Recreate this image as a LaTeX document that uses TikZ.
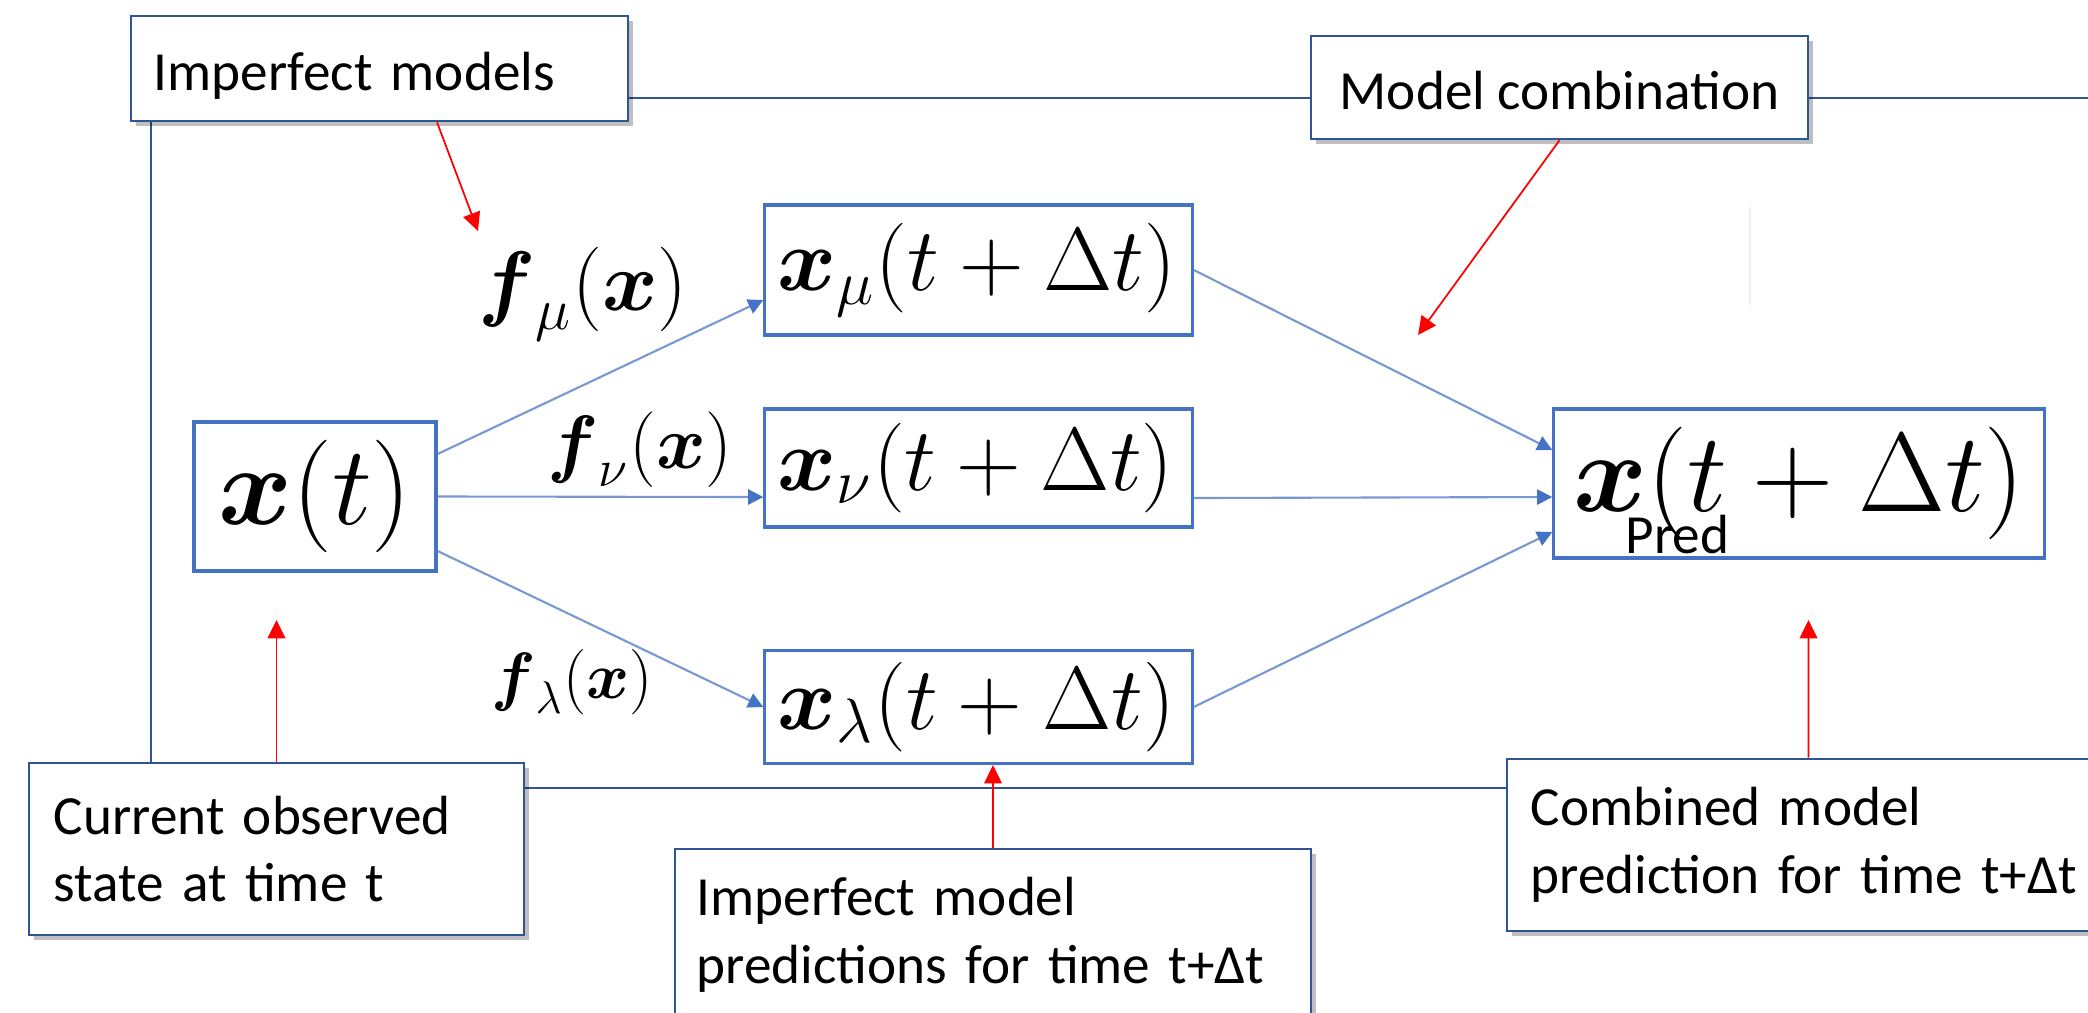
\RequirePackage{fix-cm}
\documentclass[tikz,border=0pt]{standalone}
\usepackage{amsmath}
\usepackage{fontspec}
\newfontfamily\calib{Carlito}
\usetikzlibrary{arrows.meta,shadows}
\definecolor{frameblue}{RGB}{47,85,151}
\definecolor{boxblue}{RGB}{68,114,196}
\definecolor{arrblue}{RGB}{120,152,212}
\begin{document}
\begin{tikzpicture}[x=0.01cm,y=-0.01cm,
  frameline/.style={draw=frameblue, line width=0.7pt},
  callout/.style={draw=frameblue, line width=0.7pt, fill=white,
    drop shadow={shadow xshift=0.05cm, shadow yshift=-0.05cm, opacity=0.25, fill=black},
    font=\calib\fontsize{15.7}{19.2}\selectfont, align=left},
  oneline/.style={text height=13.5pt, text depth=1pt},
  mbox/.style={draw=boxblue, line width=0.9pt, fill=white},
  flow/.style={draw=arrblue, line width=0.6pt, -{Triangle[length=4.3pt,width=4.3pt,color=boxblue]}},
  point/.style={draw=red, line width=0.5pt, -{Triangle[length=5.2pt,width=5pt]}},
]
\useasboundingbox (0,0) rectangle (2088,1012);
\fill[white] (0,0) rectangle (2088,1012);
\clip (0,0) rectangle (2088,1012);

% frame
\draw[frameline] (151,98) rectangle (2200,788);
\draw[gray!15, line width=0.4pt] (1750,207) -- (1750,305);

% callout boxes
\node[callout, oneline, inner xsep=0.23cm, text width=4.51cm, minimum height=1.05cm] (im) at (379.5,68.5) {Imperfect models};
\node[callout, oneline, align=center, minimum width=4.97cm, minimum height=1.03cm] (mc) at (1559.5,87.5) {Model combination};
\node[callout, inner xsep=0.25cm, text width=4.45cm, minimum height=1.72cm] (co) at (276.5,849) {Current observed\\state at time t};
\node[callout, inner xsep=0.22cm, text width=5.92cm, minimum height=1.72cm] (imp) at (993,935) {Imperfect model\\predictions for time t+Δt};
\node[callout, inner xsep=0.24cm, text width=6.2cm, minimum height=1.72cm] (cb) at (1841,845) {Combined model\\prediction for time t+Δt};

% math boxes
\node[mbox, minimum width=2.42cm, minimum height=1.49cm, font=\fontsize{32}{38}\selectfont] (xt) at (315,496.5) {$\boldsymbol{x}(t)$};
\node[mbox, inner xsep=0.13cm, text width=4.01cm, align=left, minimum height=1.30cm, font=\fontsize{25.5}{30}\selectfont] (xmu) at (978.5,270) {$\boldsymbol{x}_\mu(t+\Delta t)$};
\node[mbox, inner xsep=0.13cm, text width=4.01cm, align=left, minimum height=1.18cm, font=\fontsize{25.5}{30}\selectfont] (xnu) at (978.5,468) {$\boldsymbol{x}_\nu(t+\Delta t)$};
\node[mbox, inner xsep=0.13cm, text width=4.01cm, align=left, minimum height=1.08cm, font=\fontsize{25.5}{30}\selectfont] (xlam) at (978.5,707) {$\boldsymbol{x}_\lambda(t+\Delta t)$};
\node[mbox, minimum width=4.90cm, minimum height=1.49cm, font=\fontsize{32}{38}\selectfont] (pred) at (1799,483.5) {$\boldsymbol{x}(t+\Delta t)$};
\node[font=\calib\fontsize{15.7}{19}\selectfont, anchor=base west, inner sep=0pt] (predlbl) at (1625,553) {Pred};

% function labels
\node[font=\fontsize{24}{29}\selectfont] (fmu) at (583,294) {$\boldsymbol{f}_\mu(\boldsymbol{x})$};
\node[font=\fontsize{21.5}{26}\selectfont] (fnu) at (640,450) {$\boldsymbol{f}_\nu(\boldsymbol{x})$};
\node[font=\fontsize{18.6}{22}\selectfont] (flam) at (572,682) {$\boldsymbol{f}_\lambda(\boldsymbol{x})$};

% blue flows
\draw[flow] ([yshift=0.425cm]xt.east) -- ([yshift=-0.3cm]xmu.west);
\draw[flow] (xt.east) -- ([yshift=-0.29cm]xnu.west);
\draw[flow] ([yshift=-0.545cm]xt.east) -- (xlam.west);
\draw[flow] (xmu.east) -- ([yshift=0.335cm]pred.west);
\draw[flow] ([yshift=-0.3cm]xnu.east) -- ([yshift=-0.135cm]pred.west);
\draw[flow] (xlam.east) -- ([yshift=-0.485cm]pred.west);

% red pointers
\coordinate (imtip) at (478,231);
\coordinate (mctip) at (1418,335);
\coordinate (cotip) at (276.5,620);
\coordinate (cbtip) at (1808.5,620);
\draw[point] ([xshift=0.575cm]im.south) -- (imtip);
\draw[point] (mc.south) -- (mctip);
\draw[point] (co.north) -- (cotip);
\draw[point] (imp.north) -- (imp.north |- xlam.south);
\draw[point] ([xshift=-0.325cm]cb.north) -- (cbtip);
\end{tikzpicture}
\end{document}
